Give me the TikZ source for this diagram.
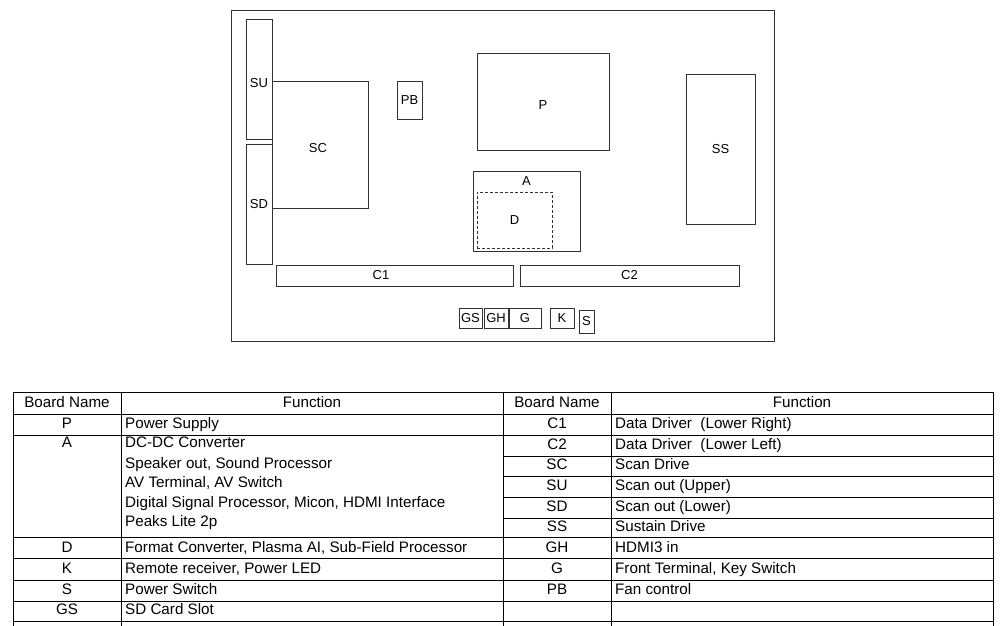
\documentclass[tikz,border=0pt]{standalone}
\usepackage{fontspec}
\setmainfont{Liberation Sans}
\usetikzlibrary{positioning}

\begin{document}
\begin{tikzpicture}[
    x=1pt, y=-1pt,
    board/.style={draw=black!80, line width=0.8pt, inner sep=0pt, font=\fontsize{13}{15}\selectfont},
    sub/.style={board, densely dashed},
    tag/.style={inner sep=0pt, font=\fontsize{13}{15}\selectfont},
    rule/.style={draw=black, line width=0.8pt},
    cell/.style={inner sep=0pt, font=\fontsize{15.2}{18}\selectfont},
    bname/.style={cell, anchor=base},
    bfunc/.style={cell, anchor=base west}
  ]
  \useasboundingbox (0,0) rectangle (1001,626);

  % board layout
  \node[board, minimum width=543, minimum height=331] (panel) at (502.5,175.5) {};
  \node[board, minimum width=26, minimum height=120] (su) at (259,79) {};
  \node[tag] (su-lbl) at ([yshift=-4pt]su.center) {SU};
  \node[board, minimum width=26, minimum height=120] (sd) at (259,204) {SD};
  \node[board, minimum width=96, minimum height=127] (sc) at (320,144.5) {};
  \node[tag] (sc-lbl) at ([xshift=-2pt, yshift=-3.5pt]sc.center) {SC};
  \node[board, minimum width=25, minimum height=38] (pb) at (409.5,100) {PB};
  \node[board, minimum width=132, minimum height=97] (p) at (543,101.5) {};
  \node[tag] (p-lbl) at ([yshift=-3.5pt]p.center) {P};
  \node[board, minimum width=69, minimum height=150] (ss) at (720.5,149) {SS};
  \node[board, minimum width=107, minimum height=80] (a) at (526.5,211) {};
  \node[tag, below=6pt of a.north] (a-lbl) {A};
  \node[sub, minimum width=75, minimum height=56] (d) at (514.5,220) {D};
  \node[board, minimum width=237, minimum height=21] (c1) at (394.5,275.5) {};
  \node[tag] (c1-lbl) at ([xshift=-13.5pt]c1.center) {C1};
  \node[board, minimum width=219, minimum height=21] (c2) at (629.5,275.5) {C2};
  \node[board, minimum width=23, minimum height=20] (gs) at (470.5,318) {GS};
  \node[board, minimum width=24, minimum height=20] (gh) at (496,318) {GH};
  \node[board, minimum width=32, minimum height=20] (g) at (525,318) {G};
  \node[board, minimum width=24, minimum height=20] (k) at (562,318) {K};
  \node[board, minimum width=15, minimum height=23] (s) at (586.5,321.5) {S};

  % table grid
  \foreach \y in {392,414,435,537,558,580,601,621}
    \draw[rule] (13,\y) -- (993,\y);
  \foreach \y in {456,476,497,518}
    \draw[rule] (503,\y) -- (993,\y);
  \foreach \x in {13,121,503,611,993}
    \draw[rule] (\x,392) -- (\x,626);

  % table headers
  \node[bname] (hl-name) at (67,407.5) {Board Name};
  \node[bname] (hl-func) at (312,407.5) {Function};
  \node[bname] (hr-name) at (557,407.5) {Board Name};
  \node[bname] (hr-func) at (802,407.5) {Function};

  % left half
  \foreach \y/\b/\f in {428/P/{Power Supply},
      552.5/D/{Format Converter, Plasma AI, Sub-Field Processor},
      573.5/K/{Remote receiver, Power LED},
      594/S/{Power Switch},
      614/GS/{SD Card Slot}} {
    \node[bname] (bl-\b) at (67,\y) {\b};
    \node[bfunc] (fl-\b) at (125,\y) {\f};
  }
  \node[bname] (bl-A) at (67,447.5) {A};
  \foreach \y/\i/\f in {447.5/1/{DC-DC Converter},
      468/2/{Speaker out, Sound Processor},
      487.5/3/{AV Terminal, AV Switch},
      507/4/{Digital Signal Processor, Micon, HDMI Interface},
      526/5/{Peaks Lite 2p}}
    \node[bfunc] (fl-A\i) at (125,\y) {\f};

  % right half
  \foreach \y/\b/\f in {428/C1/{Data Driver~~(Lower Right)},
      449/C2/{Data Driver~~(Lower Left)},
      469.5/SC/{Scan Drive},
      490/SU/{Scan out (Upper)},
      511/SD/{Scan out (Lower)},
      531.5/SS/{Sustain Drive},
      552.5/GH/{HDMI3 in},
      573.5/G/{Front Terminal, Key Switch},
      594/PB/{Fan control}} {
    \node[bname] (br-\b) at (557,\y) {\b};
    \node[bfunc] (fr-\b) at (615,\y) {\f};
  }
\end{tikzpicture}
\end{document}
